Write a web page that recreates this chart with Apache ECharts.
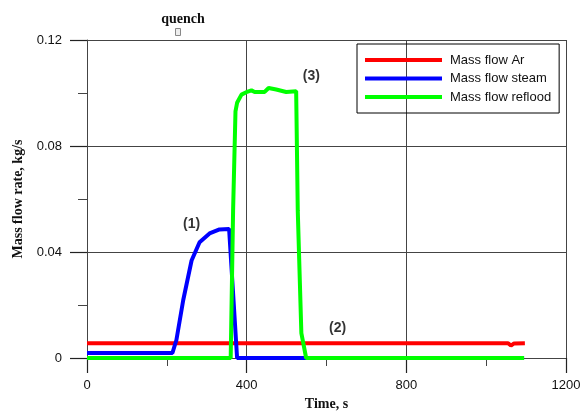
<!DOCTYPE html>
<html><head><meta charset="utf-8">
<script src="https://cdn.jsdelivr.net/npm/echarts@6/dist/echarts.min.js"></script>
<style>html,body{margin:0;padding:0;background:#fff}#c{width:585px;height:413px}</style>
</head><body><div id="c"></div>
<script>
var seriesNames = ['Mass flow Ar', 'Mass flow steam', 'Mass flow reflood'];
var seriesColors = ['#ff0000', '#0000ff', '#00ff00'];
var massFlowAr = [[0,0.0056],[1055,0.0056],[1062,0.0047],[1070,0.0055],[1097,0.0056]];
var massFlowSteam = [[0,0.0019],[214,0.0019],[224,0.0068],[241,0.0218],[262,0.0368],[282,0.0437],[307,0.047],[332,0.0485],[356,0.0487],[376,0],[1095,0]];
var massFlowReflood = [[0,0],[360,0],[366,0.0556],[372,0.0931],[376,0.0963],[387,0.0994],[399,0.1003],[412,0.101],[420,0.1004],[445,0.1004],[455,0.1019],[474,0.1013],[499,0.1004],[524,0.1007],[528,0.0556],[537,0.0094],[549,0],[1095,0]];
var annotations = [{text:'(1)', t:262, v:0.0505},{text:'(2)', t:628, v:0.0113},{text:'(3)', t:562, v:0.1065}];
var xTicks = [0, 400, 800, 1200];
var yTicks = [0, 0.04, 0.08, 0.12];

var chart = echarts.init(document.getElementById('c'));
var axisCol = '#444';
var lineData = [massFlowAr, massFlowSteam, massFlowReflood];
var series = lineData.map(function(d, i){
  return {name: seriesNames[i], type:'line', data:d, showSymbol:false, symbol:'none',
    lineStyle:{color:seriesColors[i], width:4}, itemStyle:{color:seriesColors[i]}, z:2+i, animation:false};
});
series.push({type:'scatter', symbolSize:0, animation:false, silent:true, z:10,
  data: annotations.map(function(a){return {value:[a.t,a.v], label:{show:true, formatter:a.text}};}),
  label:{show:true, position:'inside', fontFamily:'Liberation Sans', fontWeight:'bold', fontSize:14, color:'#000'}});
chart.setOption({
  animation:false,
  grid:{left:87, right:19, top:40, bottom:55, containLabel:false, outerBoundsMode:'none'},
  title:{text:'quench', left:178, top:7, textAlign:'center',
    textStyle:{fontFamily:'Liberation Serif', fontWeight:'bold', fontSize:14, color:'#111'}},
  graphic:[{type:'rect', shape:{x:175.5, y:28.5, width:5, height:7}, style:{fill:'#eee', stroke:'#888', lineWidth:1}}],
  legend:{data:seriesNames, orient:'vertical', left:357, top:44, icon:'rect', itemWidth:77, itemHeight:4,
    itemGap:4.5, padding:[9,8,9,8], borderColor:'#000', borderWidth:1,
    textStyle:{fontFamily:'Liberation Sans', fontSize:13, color:'#111', lineHeight:14, padding:[0,0,0,3]}},
  xAxis:{type:'value', min:xTicks[0], max:xTicks[xTicks.length-1], interval:400,
    name:'Time, s', nameLocation:'middle', nameGap:38,
    nameTextStyle:{fontFamily:'Liberation Serif', fontWeight:'bold', fontSize:14, color:'#111'},
    axisLine:{show:true, onZero:false, lineStyle:{color:axisCol, width:1}},
    axisTick:{show:true, inside:false, length:15, lineStyle:{color:'#222', width:1.2}},
    minorTick:{show:true, splitNumber:2, length:8, lineStyle:{color:axisCol}},
    splitLine:{show:true, lineStyle:{color:axisCol, width:1}},
    axisLabel:{margin:21, fontFamily:'Liberation Sans', fontSize:13, color:'#111',
      formatter:function(v){return xTicks.indexOf(v)>=0 ? String(v) : '';}}},
  yAxis:{type:'value', min:yTicks[0], max:yTicks[yTicks.length-1], interval:0.04,
    name:'Mass flow rate, kg/s', nameLocation:'middle', nameGap:62,
    nameTextStyle:{fontFamily:'Liberation Serif', fontWeight:'bold', fontSize:14, color:'#111'},
    axisLine:{show:true, onZero:false, lineStyle:{color:axisCol, width:1}},
    axisTick:{show:true, inside:false, length:17, lineStyle:{color:'#222', width:1.2}},
    minorTick:{show:true, splitNumber:2, length:9, lineStyle:{color:axisCol}},
    splitLine:{show:true, lineStyle:{color:axisCol, width:1}},
    axisLabel:{margin:25, fontFamily:'Liberation Sans', fontSize:13, color:'#111',
      formatter:function(v){var s = yTicks.filter(function(t){return Math.abs(t-v)<1e-9;}); return s.length ? (v===0?'0':String(+v.toFixed(2))) : '';}}},
  series:series
});
</script></body></html>
